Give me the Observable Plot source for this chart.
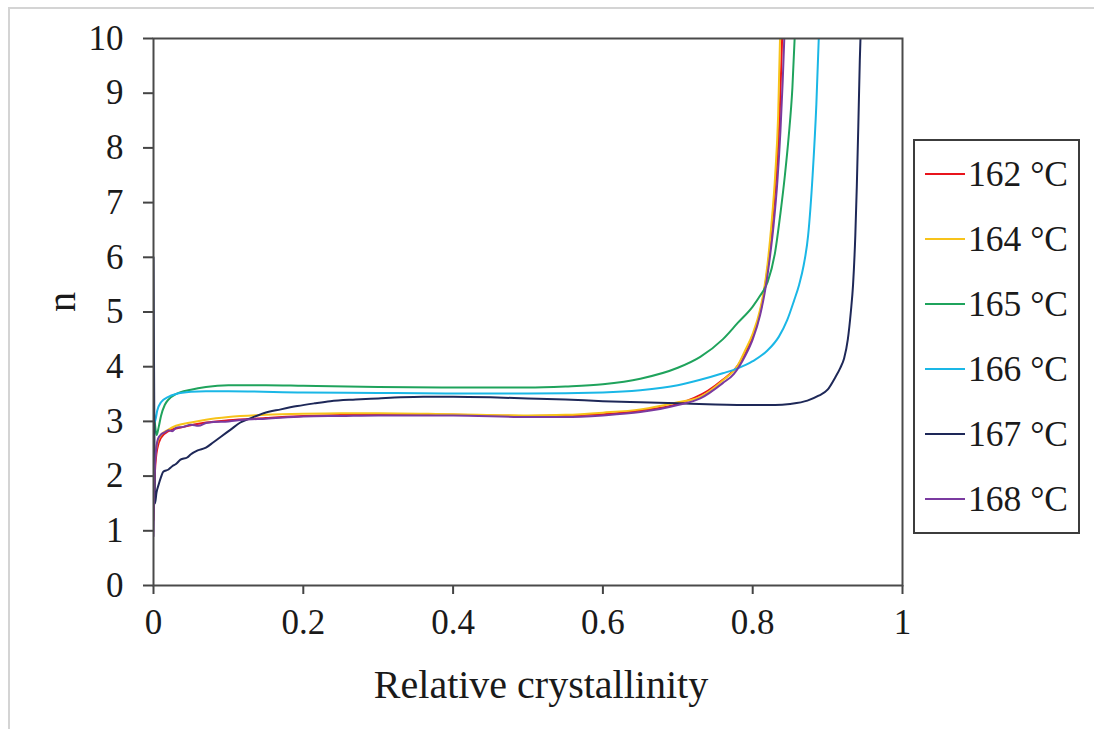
<!DOCTYPE html>
<html><head><meta charset="utf-8">
<script src="https://cdn.jsdelivr.net/npm/d3@7"></script>
<script src="https://cdn.jsdelivr.net/npm/@observablehq/plot@0.6"></script>
<style>
body{margin:0;background:#fff;}
#wrap{position:relative;width:1094px;height:729px;overflow:hidden;font-family:"Liberation Serif","Times New Roman",serif;background:#fff;}
#border{position:absolute;left:8px;top:7px;width:1200px;height:800px;border:2px solid #d4d4d4;box-sizing:border-box;}
#chart{position:absolute;left:0;top:0;}
#legend{position:absolute;left:913px;top:139px;width:167px;height:395px;border:2px solid #3c3c3c;box-sizing:border-box;background:#fff;}
.row{position:absolute;left:0;display:flex;align-items:center;height:40px;}
.row .sw{width:40px;height:2px;margin-left:10px;margin-right:3px;}
.row .lb{font-size:35.5px;color:#1a1a1a;white-space:nowrap;line-height:40px;}
</style></head>
<body>
<div id="wrap"><div id="border"></div><div id="chart"></div><div id="legend"></div></div>
<script>
const series = ["162 °C","164 °C","165 °C","166 °C","167 °C","168 °C"];
const colors = ["#e8141c","#f7c31a","#1fa35c","#1ab7e6","#1e2858","#7a3aa0"];
const xTicks = [0,0.2,0.4,0.6,0.8,1];
const yTicks = [0,1,2,3,4,5,6,7,8,9,10];

const x162 = [0,0.002,0.005,0.01,0.02,0.04,0.07,0.1,0.15,0.2,0.3,0.4,0.5,0.6,0.65,0.7,0.74,0.76,0.78,0.8,0.81,0.82,0.826,0.832,0.836,0.84];
const n162 = [1.2,2.1,2.5,2.7,2.82,2.9,2.98,3.02,3.06,3.1,3.12,3.12,3.1,3.13,3.2,3.32,3.56,3.76,4.02,4.55,5.0,5.8,6.6,7.6,8.6,10.3];

const x164 = [0,0.002,0.005,0.01,0.02,0.03,0.05,0.07,0.1,0.15,0.2,0.25,0.3,0.4,0.5,0.55,0.6,0.65,0.7,0.73,0.76,0.78,0.79,0.8,0.81,0.815,0.82,0.825,0.83,0.834,0.837];
const n164 = [1.6,2.3,2.6,2.75,2.85,2.92,2.98,3.03,3.08,3.12,3.14,3.15,3.15,3.13,3.11,3.12,3.16,3.22,3.35,3.45,3.75,4.02,4.3,4.6,5.05,5.4,5.9,6.6,7.5,8.6,10.3];

const x165 = [0,0.002,0.004,0.007,0.01,0.015,0.02,0.03,0.05,0.07,0.1,0.15,0.2,0.3,0.4,0.5,0.55,0.6,0.65,0.7,0.73,0.76,0.78,0.8,0.81,0.82,0.83,0.837,0.843,0.848,0.853,0.857];
const n165 = [3.25,2.95,2.75,2.9,3.1,3.3,3.4,3.5,3.58,3.63,3.66,3.66,3.65,3.63,3.62,3.62,3.64,3.68,3.78,3.98,4.18,4.5,4.8,5.1,5.3,5.55,6.1,6.8,7.5,8.2,9.1,10.3];

const x166 = [0,0.002,0.005,0.01,0.02,0.03,0.05,0.07,0.1,0.2,0.3,0.4,0.5,0.6,0.65,0.7,0.73,0.76,0.78,0.8,0.82,0.835,0.846,0.855,0.862,0.868,0.874,0.88,0.885,0.889];
const n166 = [3.3,3.0,3.2,3.35,3.45,3.5,3.54,3.55,3.55,3.53,3.52,3.51,3.51,3.53,3.57,3.66,3.76,3.88,3.97,4.1,4.3,4.55,4.85,5.2,5.5,5.85,6.4,7.5,8.8,10.3];

const x167 = [0,0.001,0.002,0.004,0.007,0.01,0.013,0.02,0.025,0.03,0.036,0.045,0.05,0.059,0.07,0.08,0.09,0.103,0.116,0.13,0.147,0.17,0.192,0.215,0.236,0.27,0.3,0.33,0.36,0.4,0.45,0.5,0.55,0.6,0.65,0.7,0.75,0.8,0.83,0.85,0.873,0.888,0.9,0.91,0.917,0.922,0.927,0.931,0.934,0.937,0.939,0.941,0.943,0.945];
const n167 = [6.0,3.2,1.5,1.7,1.85,1.98,2.08,2.12,2.18,2.22,2.3,2.34,2.4,2.47,2.52,2.62,2.72,2.85,2.98,3.06,3.15,3.22,3.28,3.33,3.37,3.4,3.42,3.44,3.45,3.45,3.44,3.42,3.4,3.37,3.35,3.33,3.31,3.3,3.3,3.32,3.38,3.47,3.58,3.8,3.98,4.15,4.5,5.0,5.5,6.4,7.3,8.4,9.6,10.5];

const x168 = [0,0.001,0.003,0.006,0.01,0.015,0.02,0.025,0.03,0.04,0.05,0.06,0.07,0.08,0.1,0.12,0.15,0.2,0.25,0.3,0.4,0.5,0.55,0.6,0.65,0.7,0.73,0.76,0.775,0.79,0.8,0.81,0.816,0.822,0.828,0.833,0.837,0.84,0.843];
const n168 = [0.9,1.8,2.4,2.68,2.76,2.8,2.84,2.82,2.88,2.9,2.94,2.92,2.97,2.99,3.0,3.03,3.05,3.09,3.1,3.11,3.11,3.08,3.08,3.11,3.17,3.3,3.42,3.7,3.87,4.2,4.5,4.95,5.35,5.9,6.6,7.4,8.3,9.2,10.3];

const xs = [x162,x164,x165,x166,x167,x168];
const ns = [n162,n164,n165,n166,n167,n168];
const rows = [];
series.forEach((s,i)=>xs[i].forEach((x,j)=>rows.push({series:s,x,n:ns[i][j]})));

const chart = Plot.plot({
  width:1094, height:729,
  marginLeft:153, marginRight:192, marginTop:38, marginBottom:144,
  style:{fontFamily:'"Liberation Serif","Times New Roman",serif', fontSize:"35px", color:"#1a1a1a", background:"transparent"},
  x:{domain:[0,1]},
  y:{domain:[0,10]},
  color:{domain:series, range:colors},
  marks:[
    Plot.axisX({ticks:xTicks, tickSize:9, tickPadding:15, tickFormat:d=>String(d), label:null, stroke:"#444", strokeWidth:2}),
    Plot.axisY({ticks:yTicks, tickSize:10, tickPadding:20, tickFormat:d=>String(d), label:null, stroke:"#444", strokeWidth:2}),
    Plot.line(rows,{x:"x", y:"n", z:"series", stroke:"series", strokeWidth:2, curve:"monotone-x", clip:true}),
    Plot.frame({stroke:"#4a4a4a", strokeWidth:2}),
    Plot.text(["Relative crystallinity"],{frameAnchor:"bottom", dx:13, dy:100, lineAnchor:"middle", fontSize:40, fill:"#1a1a1a"}),
    Plot.text(["n"],{frameAnchor:"left", dx:-91, rotate:-90, lineAnchor:"middle", fontSize:40, fill:"#1a1a1a"})
  ]
});
document.getElementById("chart").appendChild(chart);

const leg = document.getElementById("legend");
series.forEach((s,i)=>{
  const r = document.createElement("div");
  r.className = "row";
  r.style.top = (13 + i*65) + "px";
  const sw = document.createElement("div"); sw.className="sw"; sw.style.background = colors[i];
  const lb = document.createElement("span"); lb.className="lb"; lb.textContent = s;
  r.appendChild(sw); r.appendChild(lb); leg.appendChild(r);
});
</script>
</body></html>
